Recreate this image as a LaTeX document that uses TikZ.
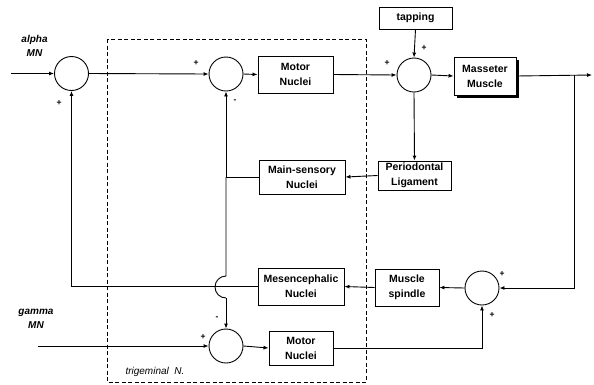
\documentclass[tikz,border=0pt]{standalone}
\usepackage{fontspec}
\setmainfont{Liberation Sans}
\usetikzlibrary{arrows.meta}
\begin{document}
\begin{tikzpicture}[x=1pt,y=1pt,
  line width=0.9pt,
  sumnode/.style={circle,draw,minimum size=34pt,inner sep=0pt},
  blk/.style={draw,rectangle,inner sep=0pt,align=center,font=\fontsize{10.5}{15}\selectfont\bfseries},
  lbl/.style={font=\fontsize{10}{14}\selectfont\bfseries\itshape,align=center},
  sgn/.style={font=\fontsize{8.5}{8.5}\selectfont\bfseries,inner sep=0pt},
  arr/.style={-{Latex[length=5pt,width=4pt]}}]
\useasboundingbox (0,0) rectangle (594,-384);
% dashed region
\draw[dashed,line width=0.7pt,dash pattern=on 4pt off 2.5pt] (107,-39) rectangle (366,-382);
% nodes
\node[sumnode] (c1) at (71.5,-73.5) {};
\node[sumnode] (c2) at (226,-74) {};
\node[blk,minimum width=75pt,minimum height=37pt] (mn1) at (295.5,-74.5) {Motor\\Nuclei};
\node[sumnode] (c3) at (414,-75) {};
\node[blk,minimum width=73pt,minimum height=22pt] (tap) at (415.5,-18) {tapping};
\fill (487.5,-78.5) ++(-31,-19) rectangle ++(62,38);
\node[blk,fill=white,minimum width=62pt,minimum height=38pt] (mm) at (485,-76) {Masseter\\Muscle};
\node[blk,minimum width=73pt,minimum height=29pt] (pl) at (414.5,-175.5) {Periodontal\\Ligament};
\node[blk,minimum width=86pt,minimum height=34pt] (ms) at (302,-177) {Main-sensory\\Nuclei};
\node[blk,minimum width=86pt,minimum height=37pt] (mes) at (301,-286.5) {Mesencephalic\\Nuclei};
\node[blk,minimum width=64pt,minimum height=37pt] (sp) at (407,-287.5) {Muscle\\spindle};
\node[sumnode] (c5) at (482,-288) {};
\node[sumnode] (c4) at (226,-346) {};
\node[blk,minimum width=64pt,minimum height=34pt] (mn2) at (301,-348) {Motor\\Nuclei};
% labels
\node[lbl] (la) at (34.5,-46) {alpha\\MN};
\node[lbl] (lg) at (36,-319) {gamma\\MN};
\node[font=\fontsize{10}{11}\selectfont\itshape] (lt) at (155,-372) {trigeminal\ \ N.};
% coordinates
\coordinate (ain) at (11,-73.5);
\coordinate (gin) at (38,-346);
\coordinate (out) at (592,-75);
\coordinate (br) at (574,-75);
\coordinate (ms1) at (226,-177);
\coordinate (hopt) at (226,-276);
\coordinate (hopb) at (226,-298);
% connectors
\draw[arr] (ain) -- (c1.west);
\draw[arr] (c1.east) -- (c2.west);
\draw[arr] (c2.east) -- (mn1.west);
\draw[arr] (mn1.east) -- (c3.west);
\draw[arr] (tap.south) -- (c3.north);
\draw[arr] (c3.east) -- (mm.west);
\draw[arr] (mm.east) -- (out);
\draw[arr] (c3.south) -- (pl.north);
\draw[arr] (pl.west) -- (ms.east);
\draw (ms.west) -- (ms1);
\draw[arr] (ms1) -- (c2.south);
\draw (ms1) -- (hopt) arc[start angle=90,end angle=270,radius=11] -- (hopb);
\draw[arr] (hopb) -- (c4.north);
\draw[arr] (br) |- (c5.east);
\draw[arr] (c5.west) -- (sp.east);
\draw[arr] (sp.west) -- (mes.east);
\draw[arr] (mes.west) -| (c1.south);
\draw[arr] (gin) -- (c4.west);
\draw[arr] (c4.east) -- (mn2.west);
\draw[arr] (mn2.east) -| (c5.south);
% signs
\node[sgn] (s1) at (59,-103) {+};
\node[sgn] (s2) at (196,-63) {+};
\node[sgn] (s3) at (235,-101) {-};
\node[sgn] (s4) at (387,-63) {+};
\node[sgn] (s5) at (424,-48) {+};
\node[sgn] (s6) at (217,-318) {-};
\node[sgn] (s7) at (203,-337) {+};
\node[sgn] (s8) at (502,-274) {+};
\node[sgn] (s9) at (492,-315) {+};
\end{tikzpicture}
\end{document}
